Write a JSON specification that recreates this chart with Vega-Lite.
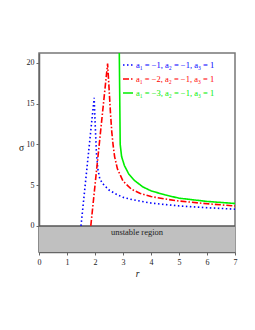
{
  "$schema": "https://vega.github.io/schema/vega-lite/v6.json",
  "autosize": {"type": "none"},
  "padding": {"left": 39, "top": 53, "right": 20, "bottom": 78},
  "width": 196,
  "height": 199,
  "background": "white",
  "config": {
    "view": {"stroke": "#777777", "strokeWidth": 1.5},
    "font": "Liberation Serif",
    "axis": {"grid": false, "domainColor": "#666666", "domainWidth": 1.5, "tickColor": "#666666", "tickSize": 3, "labelFont": "Liberation Serif", "labelFontSize": 8, "labelColor": "#222222", "titleFont": "Liberation Serif", "titleFontWeight": "normal", "titleColor": "#111111", "labelOverlap": false, "labelFlush": false, "labelBound": false}
  },
  "datasets": {
    "curves": [
      {"series": "a₁ = −1, a₂ = −1, a₃ = 1", "ord": 1, "r": 1.5, "sigma": 0},
      {"series": "a₁ = −1, a₂ = −1, a₃ = 1", "ord": 2, "r": 1.97, "sigma": 15.7},
      {"series": "a₁ = −1, a₂ = −1, a₃ = 1", "ord": 3, "r": 2.0, "sigma": 13},
      {"series": "a₁ = −1, a₂ = −1, a₃ = 1", "ord": 4, "r": 2.05, "sigma": 9},
      {"series": "a₁ = −1, a₂ = −1, a₃ = 1", "ord": 5, "r": 2.1, "sigma": 7},
      {"series": "a₁ = −1, a₂ = −1, a₃ = 1", "ord": 6, "r": 2.17, "sigma": 5.8},
      {"series": "a₁ = −1, a₂ = −1, a₃ = 1", "ord": 7, "r": 2.27, "sigma": 5.2},
      {"series": "a₁ = −1, a₂ = −1, a₃ = 1", "ord": 8, "r": 2.5, "sigma": 4.4},
      {"series": "a₁ = −1, a₂ = −1, a₃ = 1", "ord": 9, "r": 2.75, "sigma": 3.9},
      {"series": "a₁ = −1, a₂ = −1, a₃ = 1", "ord": 10, "r": 3.0, "sigma": 3.5},
      {"series": "a₁ = −1, a₂ = −1, a₃ = 1", "ord": 11, "r": 3.35, "sigma": 3.2},
      {"series": "a₁ = −1, a₂ = −1, a₃ = 1", "ord": 12, "r": 4.0, "sigma": 2.8},
      {"series": "a₁ = −1, a₂ = −1, a₃ = 1", "ord": 13, "r": 5.0, "sigma": 2.45},
      {"series": "a₁ = −1, a₂ = −1, a₃ = 1", "ord": 14, "r": 6.0, "sigma": 2.23},
      {"series": "a₁ = −1, a₂ = −1, a₃ = 1", "ord": 15, "r": 7.0, "sigma": 2.05},
      {"series": "a₁ = −2, a₂ = −1, a₃ = 1", "ord": 1, "r": 1.85, "sigma": 0},
      {"series": "a₁ = −2, a₂ = −1, a₃ = 1", "ord": 2, "r": 2.45, "sigma": 19.9},
      {"series": "a₁ = −2, a₂ = −1, a₃ = 1", "ord": 3, "r": 2.5, "sigma": 17},
      {"series": "a₁ = −2, a₂ = −1, a₃ = 1", "ord": 4, "r": 2.55, "sigma": 14},
      {"series": "a₁ = −2, a₂ = −1, a₃ = 1", "ord": 5, "r": 2.6, "sigma": 11.5},
      {"series": "a₁ = −2, a₂ = −1, a₃ = 1", "ord": 6, "r": 2.65, "sigma": 9.8},
      {"series": "a₁ = −2, a₂ = −1, a₃ = 1", "ord": 7, "r": 2.7, "sigma": 8.5},
      {"series": "a₁ = −2, a₂ = −1, a₃ = 1", "ord": 8, "r": 2.8, "sigma": 7},
      {"series": "a₁ = −2, a₂ = −1, a₃ = 1", "ord": 9, "r": 3.0, "sigma": 5.5},
      {"series": "a₁ = −2, a₂ = −1, a₃ = 1", "ord": 10, "r": 3.3, "sigma": 4.5},
      {"series": "a₁ = −2, a₂ = −1, a₃ = 1", "ord": 11, "r": 3.6, "sigma": 4.0},
      {"series": "a₁ = −2, a₂ = −1, a₃ = 1", "ord": 12, "r": 4.0, "sigma": 3.6},
      {"series": "a₁ = −2, a₂ = −1, a₃ = 1", "ord": 13, "r": 4.5, "sigma": 3.3},
      {"series": "a₁ = −2, a₂ = −1, a₃ = 1", "ord": 14, "r": 5.0, "sigma": 3.05},
      {"series": "a₁ = −2, a₂ = −1, a₃ = 1", "ord": 15, "r": 6.0, "sigma": 2.72},
      {"series": "a₁ = −2, a₂ = −1, a₃ = 1", "ord": 16, "r": 7.0, "sigma": 2.45},
      {"series": "a₁ = −3, a₂ = −1, a₃ = 1", "ord": 1, "r": 2.86, "sigma": 24},
      {"series": "a₁ = −3, a₂ = −1, a₃ = 1", "ord": 2, "r": 2.9, "sigma": 10},
      {"series": "a₁ = −3, a₂ = −1, a₃ = 1", "ord": 3, "r": 2.95, "sigma": 8.5},
      {"series": "a₁ = −3, a₂ = −1, a₃ = 1", "ord": 4, "r": 3.05, "sigma": 7.4},
      {"series": "a₁ = −3, a₂ = −1, a₃ = 1", "ord": 5, "r": 3.2, "sigma": 6.4},
      {"series": "a₁ = −3, a₂ = −1, a₃ = 1", "ord": 6, "r": 3.4, "sigma": 5.6},
      {"series": "a₁ = −3, a₂ = −1, a₃ = 1", "ord": 7, "r": 3.7, "sigma": 4.8},
      {"series": "a₁ = −3, a₂ = −1, a₃ = 1", "ord": 8, "r": 4.0, "sigma": 4.3},
      {"series": "a₁ = −3, a₂ = −1, a₃ = 1", "ord": 9, "r": 4.5, "sigma": 3.8},
      {"series": "a₁ = −3, a₂ = −1, a₃ = 1", "ord": 10, "r": 5.0, "sigma": 3.4},
      {"series": "a₁ = −3, a₂ = −1, a₃ = 1", "ord": 11, "r": 6.0, "sigma": 3.0},
      {"series": "a₁ = −3, a₂ = −1, a₃ = 1", "ord": 12, "r": 7.0, "sigma": 2.75}
    ],
    "region": [
      {"r0": 0, "r1": 7, "s0": -3.2, "s1": 0, "label": "unstable region", "rm": 3.5, "sm": -0.8}
    ]
  },
  "layer": [
    {
      "data": {"name": "region"},
      "mark": {"type": "rect", "fill": "#c0c0c0", "stroke": null},
      "encoding": {
        "x": {"field": "r0", "type": "quantitative", "scale": {"domain": [0, 7], "nice": false},
              "axis": {"title": "r", "titleFontStyle": "italic", "titleFontSize": 9.5, "titlePadding": 2, "values": [0,1,2,3,4,5,6,7], "tickCount": 8, "labelOverlap": false, "labelPadding": 3}},
        "x2": {"field": "r1"},
        "y": {"field": "s0", "type": "quantitative", "scale": {"domain": [-3.2, 21.2], "nice": false, "zero": false},
              "axis": {"title": "σ", "titleAngle": 0, "titleFontSize": 9.5, "titlePadding": 5, "values": [0,5,10,15,20], "labelOverlap": false, "labelPadding": 2}},
        "y2": {"field": "s1"}
      }
    },
    {
      "data": {"name": "region"},
      "mark": {"type": "rule", "color": "#555555", "strokeWidth": 1.5},
      "encoding": {
        "x": {"field": "r0", "type": "quantitative"},
        "x2": {"field": "r1"},
        "y": {"field": "s1", "type": "quantitative"}
      }
    },
    {
      "data": {"name": "region"},
      "mark": {"type": "text", "font": "Liberation Serif", "fontSize": 8.5, "color": "#222222", "baseline": "middle"},
      "encoding": {
        "x": {"field": "rm", "type": "quantitative"},
        "y": {"field": "sm", "type": "quantitative"},
        "text": {"field": "label"}
      }
    },
    {
      "data": {"name": "curves"},
      "mark": {"type": "line", "clip": true},
      "encoding": {
        "x": {"field": "r", "type": "quantitative"},
        "y": {"field": "sigma", "type": "quantitative"},
        "order": {"field": "ord", "type": "quantitative"},
        "color": {"field": "series", "type": "nominal",
                  "scale": {"domain": ["a₁ = −1, a₂ = −1, a₃ = 1", "a₁ = −2, a₂ = −1, a₃ = 1", "a₁ = −3, a₂ = −1, a₃ = 1"], "range": ["#0000ff", "#ff0000", "#00ee00"]},
                  "legend": {"title": null, "orient": "none", "legendX": 83, "legendY": 6, "padding": 0, "symbolType": "stroke", "symbolSize": 100, "labelFont": "Liberation Serif", "labelFontSize": 8.5, "rowPadding": 3, "symbolOffset": 0, "labelOffset": 2,
                             "encode": {"labels": {"update": {"fill": {"scale": "color", "field": "value"}}}}}},
        "strokeDash": {"field": "series", "type": "nominal",
                  "scale": {"domain": ["a₁ = −1, a₂ = −1, a₃ = 1", "a₁ = −2, a₂ = −1, a₃ = 1", "a₁ = −3, a₂ = −1, a₃ = 1"], "range": [[1.5, 2.5], [6, 2, 1.5, 2], [1, 0]]}},
        "strokeWidth": {"field": "series", "type": "nominal",
                  "scale": {"domain": ["a₁ = −1, a₂ = −1, a₃ = 1", "a₁ = −2, a₂ = −1, a₃ = 1", "a₁ = −3, a₂ = −1, a₃ = 1"], "range": [1.6, 1.6, 1.8]}}
      }
    }
  ]
}
